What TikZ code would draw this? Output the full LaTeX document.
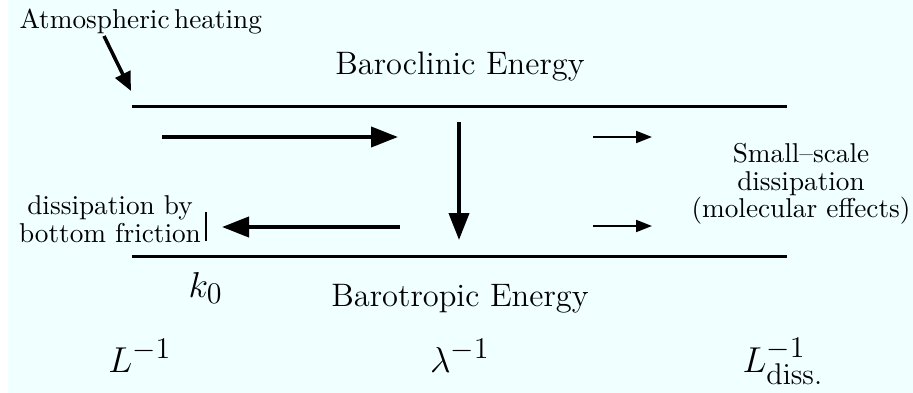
\documentclass[tikz,border=0pt]{standalone}
\usetikzlibrary{arrows.meta}
\DeclareMathSizes{15.5}{15.5}{12}{9}
\definecolor{bgcyan}{RGB}{240,255,255}
\begin{document}
\begin{tikzpicture}[x=0.4pt,y=-0.4pt,
  level/.style={line width=1.2pt},
  bigarrow/.style={line width=1.6pt,-{Triangle[length=10.8pt,width=8pt]}},
  smallarrow/.style={line width=0.8pt,-{Triangle[length=6.4pt,width=4.8pt]}},
  heatarrow/.style={line width=1.4pt,-{Triangle[length=7.5pt,width=6.5pt]}},
  midtext/.style={font=\fontsize{13}{15}\selectfont, inner sep=0pt, anchor=base},
  smalltext/.style={font=\fontsize{10.9}{11.1}\selectfont, inner sep=0pt, align=center},
  mathtext/.style={font=\fontsize{15.5}{18}\selectfont, inner sep=0pt, anchor=base}
]
\useasboundingbox (0,0) rectangle (913,393);
\fill[bgcyan] (8,0) rectangle (913,393);

% levels
\coordinate (topL) at (132,106);
\coordinate (topR) at (787,106);
\coordinate (botL) at (132,256);
\coordinate (botR) at (787,256);
\draw[level] (topL) -- (topR);
\draw[level] (botL) -- (botR);

% texts
\node[midtext] (baroclinic) at (460,74) {Baroclinic Energy};
\node[midtext] (barotropic) at (460,306) {Barotropic Energy};
\node[smalltext, anchor=base west] (heating) at (19,28) {Atmospheric\,heating};
\node[smalltext, anchor=center] (bottomfric) at (110,219) {dissipation by\\bottom friction};
\node[smalltext, anchor=center] (smallscale) at (801,184) {Small--scale\\dissipation\\(molecular effects)};

% math labels
\node[mathtext, anchor=base west] (k0) at (188,297) {$k_0$};
\node[mathtext] (Linv) at (140,372) {$L^{-1}$};
\node[mathtext] (laminv) at (460,372) {$\lambda^{-1}$};
\node[mathtext, anchor=base west] (Ldiss) at (742,372) {$L^{-1}_{\mathrm{diss.}}$};

% arrows
\coordinate (h1) at (104,36);
\coordinate (h2) at (131,91);
\draw[heatarrow] (h1) -- (h2);

\coordinate (a1s) at (162,137);
\coordinate (a1e) at (398,137);
\draw[bigarrow] (a1s) -- (a1e);

\coordinate (a2s) at (400,227);
\coordinate (a2e) at (222,227);
\draw[bigarrow] (a2s) -- (a2e);

\coordinate (barT) at (206,212);
\coordinate (barB) at (206,241);
\draw[line width=0.9pt] (barT) -- (barB);

\coordinate (vs) at (459,122);
\coordinate (ve) at (459,240);
\draw[bigarrow] (vs) -- (ve);

\coordinate (s1s) at (593,137);
\coordinate (s1e) at (652,137);
\draw[smallarrow] (s1s) -- (s1e);
\coordinate (s2s) at (593,226);
\coordinate (s2e) at (652,226);
\draw[smallarrow] (s2s) -- (s2e);
\end{tikzpicture}
\end{document}
